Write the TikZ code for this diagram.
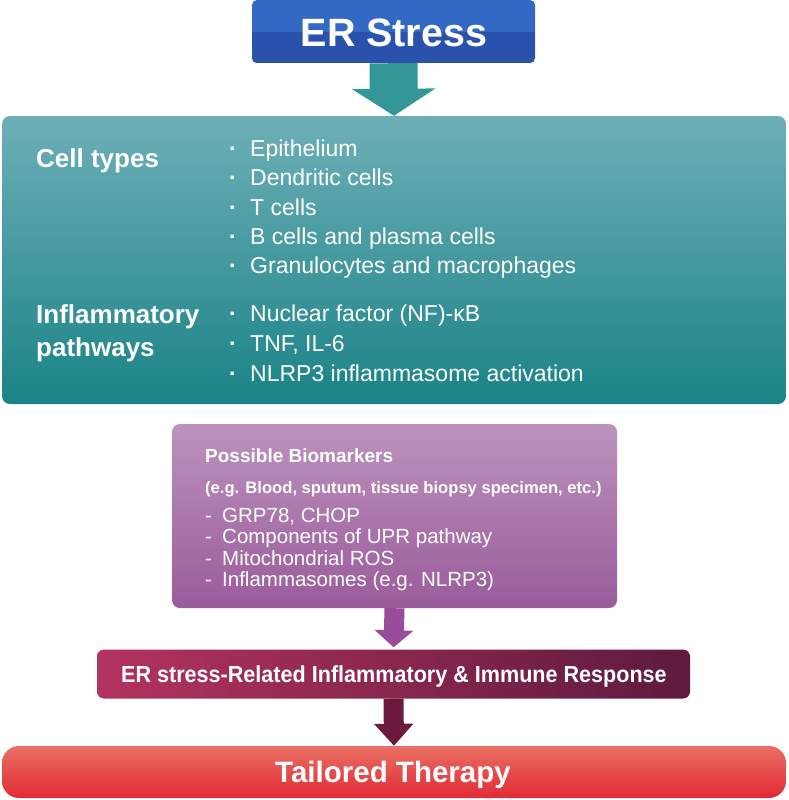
\documentclass[tikz,border=0pt]{standalone}
\usepackage{fontspec}
\setmainfont{Liberation Sans}
\usetikzlibrary{arrows.meta}
\definecolor{ertop}{HTML}{3368C5}
\definecolor{erbot}{HTML}{2A52AC}
\definecolor{tealarr}{HTML}{339697}
\definecolor{tealtop}{HTML}{6EAFB7}
\definecolor{tealbot}{HTML}{1A8387}
\definecolor{purtop}{HTML}{BC92BC}
\definecolor{purbot}{HTML}{9A5C9C}
\definecolor{purarr}{HTML}{9A4C9C}
\definecolor{resleft}{HTML}{B3335F}
\definecolor{resmid}{HTML}{B46E86}
\definecolor{resright}{HTML}{5E1A3E}
\definecolor{darkarr}{HTML}{6B1A3E}
\definecolor{thertop}{HTML}{E87062}
\definecolor{therbot}{HTML}{E22A36}
\begin{document}
\begin{tikzpicture}[x=1pt,y=-1pt,
  box/.style={inner sep=0pt, draw=none},
  wtext/.style={text=white, inner sep=0pt},
  head/.style={wtext, font=\fontsize{26}{28}\selectfont\bfseries, anchor=base west},
  item/.style={wtext, font=\fontsize{23}{25}\selectfont, anchor=base west},
  bitem/.style={wtext, font=\fontsize{20.5}{22}\selectfont, anchor=base west},
  bigarrow/.style={line width=48pt, draw=tealarr, -{Triangle[width=82pt,length=27pt]}},
  smallarrow/.style={line width=20pt, -{Triangle[width=38pt,length=#1]}}
]
\useasboundingbox (0,0) rectangle (788,800);

% boxes
\node[box, minimum width=283pt, minimum height=63pt, rounded corners=5pt, fill=ertop,
  path picture={\fill[erbot, sharp corners] ([yshift=-1pt]path picture bounding box.west) rectangle (path picture bounding box.south east);}]
  (ers) at (393.5,31.5) {};
\node[box, minimum width=784pt, minimum height=288pt, rounded corners=8pt, top color=tealtop, bottom color=tealbot]
  (cell) at (394,260) {};
\node[box, minimum width=445pt, minimum height=184pt, rounded corners=8pt, top color=purtop, bottom color=purbot]
  (bio) at (394.5,516) {};
\node[box, minimum width=593pt, minimum height=49pt, rounded corners=7pt, left color=resleft, middle color=resmid, right color=resright]
  (resp) at (393.5,674) {};
\node[box, minimum width=784pt, minimum height=52pt, rounded corners=17pt, top color=thertop, bottom color=therbot]
  (ther) at (394,772) {};

% arrows
\draw[bigarrow] (ers.south) -- (cell.north);
\draw[smallarrow=17pt, draw=purarr, shorten >=2pt] (bio.south) -- (resp.north);
\draw[smallarrow=22pt, draw=darkarr] (resp.south) -- (ther.north);

% titles
\node[wtext, anchor=base, font=\fontsize{39.5}{40}\selectfont\bfseries] (erst) at (394,47) {ER Stress};
\node[wtext, anchor=base, font=\fontsize{23.2}{24}\selectfont\bfseries] (respt) at (394,682) {\scalebox{0.93}[1]{ER stress-Related Inflammatory \& Immune Response}};
\node[wtext, anchor=base, font=\fontsize{29.5}{30}\selectfont\bfseries] (thert) at (393,782) {Tailored Therapy};

% teal box content
\node[head] (lct) at (36,167) {Cell types};
\node[head] (lip1) at (36,323) {Inflammatory};
\node[head] (lip2) at (36,356) {pathways};
\foreach \y/\t/\n in {156/Epithelium/c1, 185.5/Dendritic cells/c2, 215/T cells/c3, 244/B cells and plasma cells/c4, 273.5/Granulocytes and macrophages/c5, 321/{Nuclear factor (NF)-κB}/p1, 351.5/{TNF, IL-6}/p2, 381/NLRP3 inflammasome activation/p3} {
  \node[item, anchor=base, font=\fontsize{23}{25}\selectfont\bfseries] (d\n) at (233,\y) {·};
  \node[item] (\n) at (250,\y) {\t};
}

% purple box content
\node[wtext, anchor=base west, font=\fontsize{19}{20}\selectfont\bfseries] (bt) at (205,462) {Possible Biomarkers};
\node[wtext, anchor=base west, font=\fontsize{16.6}{18}\selectfont\bfseries] (bs) at (205,493) {(e.g. Blood, sputum, tissue biopsy specimen, etc.)};
\foreach \y/\t/\n in {522/{GRP78, CHOP}/b1, 543.5/Components of UPR pathway/b2, 565/Mitochondrial ROS/b3, 586.5/Inflammasomes (e.g. NLRP3)/b4} {
  \node[bitem] (h\n) at (205,\y) {-};
  \node[bitem] (\n) at (222,\y) {\t};
}
\end{tikzpicture}
\end{document}
